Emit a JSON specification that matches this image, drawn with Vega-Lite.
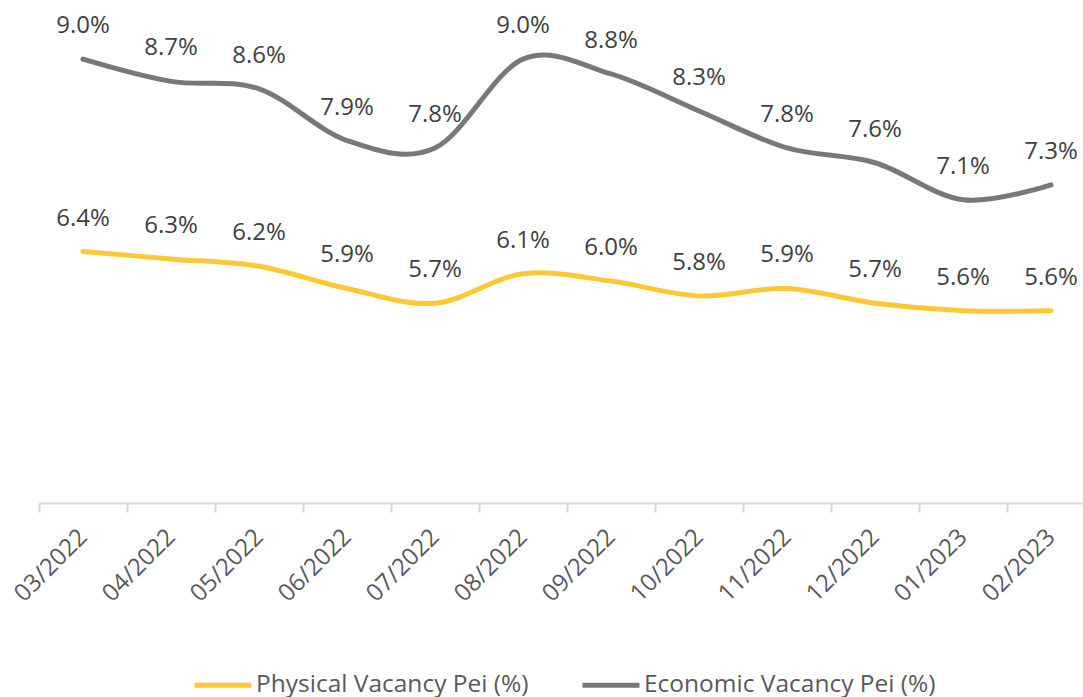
{
  "$schema": "https://vega.github.io/schema/vega-lite/v6.json",
  "width": 1044,
  "height": 503,
  "autosize": {"type": "none"},
  "padding": {"left": 39, "top": 0, "right": 0, "bottom": 194},
  "background": "white",
  "config": {"view": {"stroke": null}, "font": "Open Sans"},
  "data": {
    "values": [
      {"month": "03/2022", "series": "Physical Vacancy Pei (%)", "value": 0.064},
      {"month": "04/2022", "series": "Physical Vacancy Pei (%)", "value": 0.063},
      {"month": "05/2022", "series": "Physical Vacancy Pei (%)", "value": 0.062},
      {"month": "06/2022", "series": "Physical Vacancy Pei (%)", "value": 0.059},
      {"month": "07/2022", "series": "Physical Vacancy Pei (%)", "value": 0.057},
      {"month": "08/2022", "series": "Physical Vacancy Pei (%)", "value": 0.061},
      {"month": "09/2022", "series": "Physical Vacancy Pei (%)", "value": 0.060},
      {"month": "10/2022", "series": "Physical Vacancy Pei (%)", "value": 0.058},
      {"month": "11/2022", "series": "Physical Vacancy Pei (%)", "value": 0.059},
      {"month": "12/2022", "series": "Physical Vacancy Pei (%)", "value": 0.057},
      {"month": "01/2023", "series": "Physical Vacancy Pei (%)", "value": 0.056},
      {"month": "02/2023", "series": "Physical Vacancy Pei (%)", "value": 0.056},
      {"month": "03/2022", "series": "Economic Vacancy Pei (%)", "value": 0.090},
      {"month": "04/2022", "series": "Economic Vacancy Pei (%)", "value": 0.087},
      {"month": "05/2022", "series": "Economic Vacancy Pei (%)", "value": 0.086},
      {"month": "06/2022", "series": "Economic Vacancy Pei (%)", "value": 0.079},
      {"month": "07/2022", "series": "Economic Vacancy Pei (%)", "value": 0.078},
      {"month": "08/2022", "series": "Economic Vacancy Pei (%)", "value": 0.090},
      {"month": "09/2022", "series": "Economic Vacancy Pei (%)", "value": 0.088},
      {"month": "10/2022", "series": "Economic Vacancy Pei (%)", "value": 0.083},
      {"month": "11/2022", "series": "Economic Vacancy Pei (%)", "value": 0.078},
      {"month": "12/2022", "series": "Economic Vacancy Pei (%)", "value": 0.076},
      {"month": "01/2023", "series": "Economic Vacancy Pei (%)", "value": 0.071},
      {"month": "02/2023", "series": "Economic Vacancy Pei (%)", "value": 0.073}
    ]
  },
  "encoding": {
    "x": {
      "field": "month",
      "type": "ordinal",
      "sort": null,
      "scale": {"type": "band", "paddingInner": 0, "paddingOuter": 0, "range": [0, 1056]},
      "axis": {
        "title": null,
        "tickBand": "extent",
        "domainColor": "#d9d9d9",
        "domainWidth": 2,
        "tickColor": "#d9d9d9",
        "tickWidth": 2,
        "tickSize": 9,
        "labelAngle": -45,
        "labelAlign": "right",
        "labelBaseline": "middle",
        "labelPadding": 21,
        "labelFont": "Open Sans",
        "labelFontSize": 24,
        "labelColor": "#595959",
        "labelBound": false,
        "labelOverlap": false
      }
    },
    "y": {
      "field": "value",
      "type": "quantitative",
      "scale": {"domain": [0.03, 0.098], "nice": false, "zero": false},
      "axis": null
    }
  },
  "layer": [
    {
      "mark": {"type": "line", "interpolate": "cardinal", "strokeWidth": 5, "strokeCap": "round"},
      "encoding": {
        "color": {
          "field": "series",
          "type": "nominal",
          "scale": {
            "domain": ["Physical Vacancy Pei (%)", "Economic Vacancy Pei (%)"],
            "range": ["#fcc934", "#787878"]
          },
          "legend": {
            "title": null,
            "orient": "none",
            "direction": "horizontal",
            "legendX": 153,
            "legendY": 654,
            "padding": 0,
            "symbolType": "stroke",
            "symbolSize": 3249,
            "symbolStrokeWidth": 5,
            "labelFont": "Open Sans",
            "labelFontSize": 24.5,
            "labelColor": "#595959",
            "labelOffset": 2,
            "labelLimit": 400,
            "columnPadding": 43
          }
        }
      }
    },
    {
      "mark": {"type": "text", "baseline": "alphabetic", "dy": -26, "font": "Open Sans", "fontSize": 24, "color": "#404040"},
      "encoding": {
        "text": {"field": "value", "type": "quantitative", "format": ".1%"}
      }
    }
  ]
}
